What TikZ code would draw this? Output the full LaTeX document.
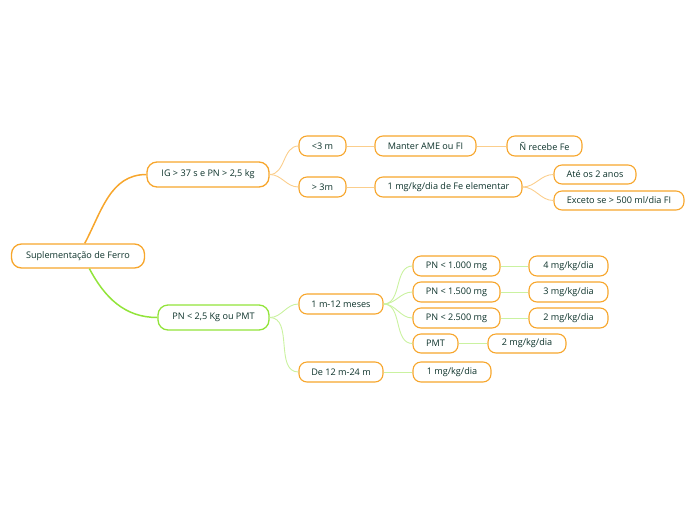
\documentclass[tikz,border=0pt]{standalone}
\usepackage{fontspec}
\setmainfont{Open Sans}
\usepackage{tikz}

\definecolor{orangeB}{RGB}{247,166,44}
\definecolor{orangeL}{RGB}{251,206,140}
\definecolor{greenB}{RGB}{146,228,58}
\definecolor{greenL}{RGB}{202,242,160}
\definecolor{txt}{RGB}{12,50,42}

\tikzset{
  topic/.style={draw=orangeB, line width=1.1pt, rounded corners=8pt, fill=white,
    text=txt, font=\fontsize{9.1}{10}\selectfont, minimum height=20pt, inner xsep=4pt},
  main/.style={topic, line width=1.3pt, rounded corners=10pt, minimum height=25pt},
  branchO/.style={draw=orangeB, line width=1.5pt},
  branchG/.style={draw=greenB, line width=1.5pt},
  subO/.style={draw=orangeL, line width=0.9pt},
  subG/.style={draw=greenL, line width=0.9pt}
}

\begin{document}
\begin{tikzpicture}[x=1pt, y=1pt]
  \useasboundingbox (0,0) rectangle (696,-520);

  % Central topic
  \node[main, minimum width=133pt, minimum height=24pt] (root) at (78,-256) {Suplementação de Ferro};

  % Main branches
  \node[main, minimum width=122pt] (ig) at (208,-174.5) {IG > 37 s e PN > 2,5 kg};
  \node[main, draw=greenB, minimum width=111pt] (pn) at (213.5,-317.5) {PN < 2,5 Kg ou PMT};

  % Branch IG
  \node[topic, minimum width=47pt] (m3a) at (322.5,-146) {<3 m};
  \node[topic, minimum width=101pt] (ame) at (425.5,-146) {Manter AME ou FI};
  \node[topic, minimum width=75pt] (nfe) at (544.5,-146) {Ñ recebe Fe};
  \node[topic, minimum width=47pt] (m3b) at (322.5,-187) {> 3m};
  \node[topic, minimum width=147pt] (fe) at (448.5,-187) {1 mg/kg/dia de Fe elementar};
  \node[topic, minimum width=82pt, minimum height=19pt] (ate) at (595,-174.5) {Até os 2 anos};
  \node[topic, minimum width=130pt, minimum height=19pt] (exc) at (619,-200.5) {Exceto se > 500 ml/dia FI};

  % Branch PN
  \node[topic, minimum width=84pt] (mes) at (341,-304) {1 m-12 meses};
  \node[topic, minimum width=84pt] (de12) at (341,-372) {De 12 m-24 m};
  \node[topic, minimum width=87pt] (p1) at (456.5,-266) {PN < 1.000 mg};
  \node[topic, minimum width=79pt] (d4) at (568.5,-266) {4 mg/kg/dia};
  \node[topic, minimum width=87pt] (p2) at (456.5,-292) {PN < 1.500 mg};
  \node[topic, minimum width=79pt] (d3) at (568.5,-292) {3 mg/kg/dia};
  \node[topic, minimum width=87pt] (p3) at (456.5,-318) {PN < 2.500 mg};
  \node[topic, minimum width=79pt] (d2a) at (568.5,-318) {2 mg/kg/dia};
  \node[topic, minimum width=45pt, minimum height=19pt] (pmt) at (435.5,-343.5) {PMT};
  \node[topic, minimum width=78pt, minimum height=19pt] (d2b) at (527,-343.5) {2 mg/kg/dia};
  \node[topic, minimum width=78pt] (d1) at (452,-372) {1 mg/kg/dia};

  % Connectors
  \draw[branchO] (root.62) to[out=62,in=180] (ig.west);
  \draw[branchG] (root.-48) to[out=-62,in=180] (pn.west);

  \draw[subO] (ig.east) to[out=0,in=180] (m3a.west);
  \draw[subO] (ig.east) to[out=0,in=180] (m3b.west);
  \draw[subO] (m3a) -- (ame);
  \draw[subO] (ame) -- (nfe);
  \draw[subO] (m3b) -- (fe);
  \draw[subO] (fe.east) to[out=0,in=180] (ate.west);
  \draw[subO] (fe.east) to[out=0,in=180] (exc.west);

  \draw[subG] (pn.east) to[out=0,in=180] (mes.west);
  \draw[subG] (pn.east) to[out=0,in=180] (de12.west);
  \draw[subG] (mes.east) to[out=0,in=180] (p1.west);
  \draw[subG] (mes.east) to[out=0,in=180] (p2.west);
  \draw[subG] (mes.east) to[out=0,in=180] (p3.west);
  \draw[subG] (mes.east) to[out=0,in=180] (pmt.west);
  \draw[subG] (de12) -- (d1);
  \draw[subG] (p1) -- (d4);
  \draw[subG] (p2) -- (d3);
  \draw[subG] (p3) -- (d2a);
  \draw[subG] (pmt) -- (d2b);
\end{tikzpicture}
\end{document}
